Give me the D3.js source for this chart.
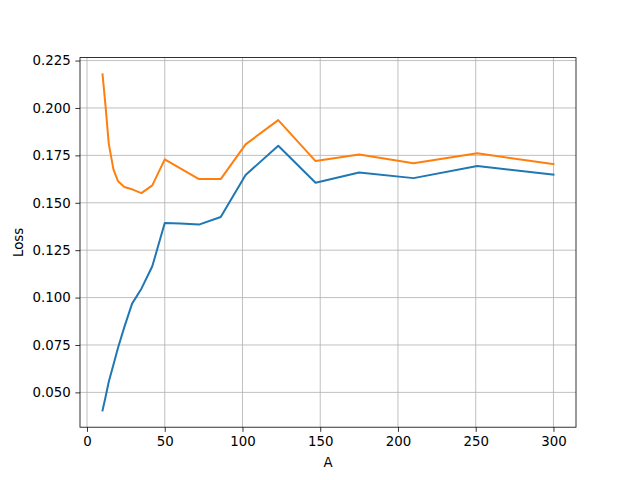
<!DOCTYPE html>
<html><head><meta charset="utf-8">
<script src="https://cdn.jsdelivr.net/npm/d3@7"></script>
<style>body{margin:0;background:#fff}svg{display:block}text{font-family:"DejaVu Sans",sans-serif}</style>
</head><body><svg id="c" width="640" height="480"></svg>
<script>
const A = [10, 12, 14, 17, 20, 24, 29, 35, 42, 50, 60, 72, 86, 102, 123, 147, 175, 210, 251, 300];
const lossBlue = [0.0405, 0.0478, 0.0556, 0.0646, 0.0737, 0.0844, 0.0968, 0.1047, 0.1165, 0.1393, 0.1391, 0.1385, 0.1425, 0.1646, 0.1801, 0.1606, 0.1660, 0.1630, 0.1694, 0.1648];
const lossOrange = [0.2177, 0.2003, 0.1812, 0.1676, 0.1613, 0.1583, 0.1571, 0.1551, 0.1592, 0.1729, 0.1682, 0.1625, 0.1625, 0.1808, 0.1936, 0.1720, 0.1755, 0.1709, 0.1761, 0.1704];
const xTicks = [0, 50, 100, 150, 200, 250, 300];
const yTicks = [0.050, 0.075, 0.100, 0.125, 0.150, 0.175, 0.200, 0.225];
const colors = ["#1f77b4", "#ff7f0e"];

const L = 80, R = 576, T = 57.6, B = 427.2;
const svg = d3.select("#c");
const xmin = d3.min(A), xmax = d3.max(A);
const xm = (xmax - xmin) * 0.05;
const all = lossBlue.concat(lossOrange);
const ymin = d3.min(all), ymax = d3.max(all), ym = (ymax - ymin) * 0.05;
const x = d3.scaleLinear().domain([xmin - xm, xmax + xm]).range([L, R]);
const y = d3.scaleLinear().domain([ymin - ym, ymax + ym]).range([B, T]);

// grid
const g = svg.append("g");
g.selectAll(".vg").data(xTicks).enter().append("line")
  .attr("x1", d => x(d)).attr("x2", d => x(d)).attr("y1", T).attr("y2", B)
  .attr("stroke", "#b0b0b0").attr("stroke-width", 0.8);
g.selectAll(".hg").data(yTicks).enter().append("line")
  .attr("y1", d => y(d)).attr("y2", d => y(d)).attr("x1", L).attr("x2", R)
  .attr("stroke", "#b0b0b0").attr("stroke-width", 0.8);

// lines
const line = d3.line().x((d, i) => x(A[i])).y(d => y(d));
[lossBlue, lossOrange].forEach((s, k) => {
  svg.append("path").attr("d", line(s)).attr("fill", "none")
    .attr("stroke", colors[k]).attr("stroke-width", 2)
    .attr("stroke-linejoin", "round").attr("stroke-linecap", "square");
});

// axes
const xa = svg.append("g").attr("transform", `translate(0,${B})`)
  .call(d3.axisBottom(x).tickValues(xTicks).tickSize(4.67).tickPadding(4.67).tickFormat(d3.format("d")));
const ya = svg.append("g").attr("transform", `translate(${L},0)`)
  .call(d3.axisLeft(y).tickValues(yTicks).tickSize(4.67).tickPadding(4.67).tickFormat(d3.format(".3f")));
[xa, ya].forEach(a => {
  a.select(".domain").remove();
  a.selectAll(".tick line").attr("stroke", "#000").attr("stroke-width", 0.8);
  a.selectAll(".tick text").attr("font-size", "13.33px").attr("fill", "#000")
    .style("font-family", "'DejaVu Sans', sans-serif");
});

// frame
svg.append("rect").attr("x", L).attr("y", T).attr("width", R - L).attr("height", B - T)
  .attr("fill", "none").attr("stroke", "#000").attr("stroke-width", 0.8);

svg.append("text").attr("x", (L + R) / 2).attr("y", 467).attr("text-anchor", "middle")
  .attr("font-size", "13.33px").text("A");
svg.append("text").attr("transform", `translate(23,${(T + B) / 2}) rotate(-90)`)
  .attr("text-anchor", "middle").attr("font-size", "13.33px").text("Loss");
</script></body></html>
